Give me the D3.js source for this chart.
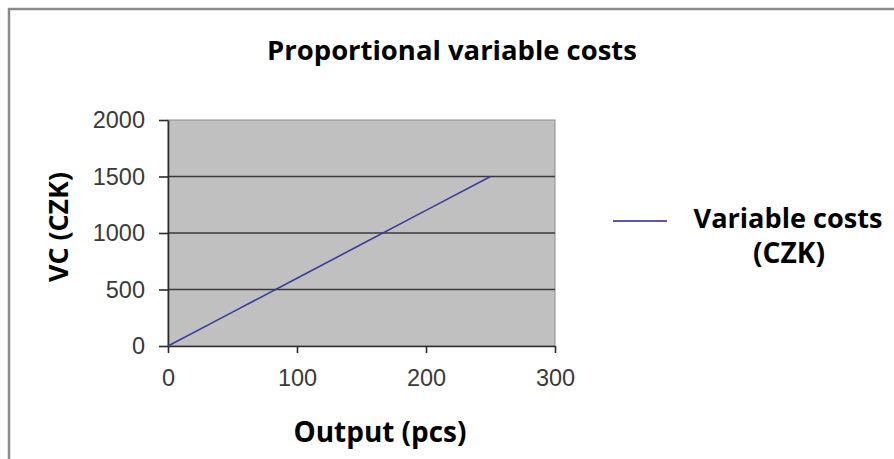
<!DOCTYPE html>
<html>
<head>
<meta charset="utf-8">
<script src="https://cdn.jsdelivr.net/npm/d3@7"></script>
<style>
  html, body { margin: 0; padding: 0; background: #fff; }
  svg { display: block; }
</style>
</head>
<body>
<svg id="chart" width="894" height="459"></svg>
<script>
// Output in pieces and the matching variable costs (6 CZK per piece)
const outputPcs = [0, 50, 100, 150, 200, 250];
const variableCosts = [0, 300, 600, 900, 1200, 1500];
const xTicks = [0, 100, 200, 300];
const yTicks = [0, 500, 1000, 1500, 2000];

const titleText = "Proportional variable costs";
const xTitle = "Output (pcs)";
const yTitle = "VC (CZK)";
const legendLines = ["Variable costs", "(CZK)"];

const svg = d3.select("#chart");
const W = 894, H = 459;
const plot = { left: 168, right: 555, top: 120, bottom: 346 };

const labelFont = "'Liberation Sans', Arial, sans-serif";
const boldFont = "'Open Sans', 'Noto Sans', sans-serif";

// bold text sized so that it spans a given width
function boldText(parent, str, width) {
  const t = parent.append("text")
    .attr("text-anchor", "middle")
    .style("font-family", boldFont)
    .style("font-weight", "bold")
    .style("font-size", "24px")
    .attr("fill", "#000")
    .text(str);
  const w = t.node().getComputedTextLength();
  if (w > 0) t.style("font-size", (24 * width / w).toFixed(2) + "px");
  return t;
}

// outer chart frame (only top and left edges fall inside the view)
svg.append("rect")
  .attr("x", 9).attr("y", 9)
  .attr("width", W + 20).attr("height", H + 20)
  .attr("fill", "#fff")
  .attr("stroke", "#8a8a8a")
  .attr("stroke-width", 2.5);

const x = d3.scaleLinear().domain([0, 300]).range([plot.left, plot.right]);
const y = d3.scaleLinear().domain([0, 2000]).range([plot.bottom, plot.top]);

// plot area
svg.append("rect")
  .attr("x", plot.left).attr("y", plot.top)
  .attr("width", plot.right - plot.left)
  .attr("height", plot.bottom - plot.top)
  .attr("fill", "#c0c0c0")
  .attr("stroke", "#8c8c8c")
  .attr("stroke-width", 1);

// horizontal gridlines
svg.append("g")
  .selectAll("line")
  .data(yTicks.filter(d => d > 0 && d < 2000))
  .join("line")
  .attr("x1", plot.left).attr("x2", plot.right)
  .attr("y1", d => y(d)).attr("y2", d => y(d))
  .attr("stroke", "#3a3a3a")
  .attr("stroke-width", 1.6);

// y axis
const yAxis = svg.append("g")
  .attr("transform", `translate(${plot.left},0)`)
  .call(d3.axisLeft(y).tickValues(yTicks).tickFormat(d3.format("d"))
    .tickSize(9).tickPadding(14).tickSizeOuter(0));
// x axis
const xAxis = svg.append("g")
  .attr("transform", `translate(0,${plot.bottom})`)
  .call(d3.axisBottom(x).tickValues(xTicks).tickFormat(d3.format("d"))
    .tickSize(7).tickPadding(16).tickSizeOuter(0));

[yAxis, xAxis].forEach(g => {
  g.select(".domain").attr("stroke", "#2a2a2a").attr("stroke-width", 1.6);
  g.selectAll(".tick line").attr("stroke", "#2a2a2a").attr("stroke-width", 1.6);
  g.selectAll(".tick text")
    .attr("fill", "#3a3a3a")
    .style("font-family", labelFont)
    .style("font-size", "23.5px");
});

// cost line
const line = d3.line()
  .x((d, i) => x(outputPcs[i]))
  .y(d => y(d));
svg.append("path")
  .datum(variableCosts)
  .attr("d", line)
  .attr("fill", "none")
  .attr("stroke", "#3c3c9c")
  .attr("stroke-width", 1.6);

// title
boldText(svg, titleText, 370).attr("x", 452).attr("y", 60);

// axis titles
boldText(svg, xTitle, 173).attr("x", 380).attr("y", 442);
boldText(svg, yTitle, 110).attr("transform", "translate(68,227) rotate(-90)");

// legend
svg.append("line")
  .attr("x1", 613).attr("x2", 667)
  .attr("y1", 221).attr("y2", 221)
  .attr("stroke", "#5a5aa8")
  .attr("stroke-width", 2);

boldText(svg, legendLines[0], 189).attr("x", 788).attr("y", 228);
boldText(svg, legendLines[1], 72).attr("x", 789).attr("y", 263);
</script>
</body>
</html>
